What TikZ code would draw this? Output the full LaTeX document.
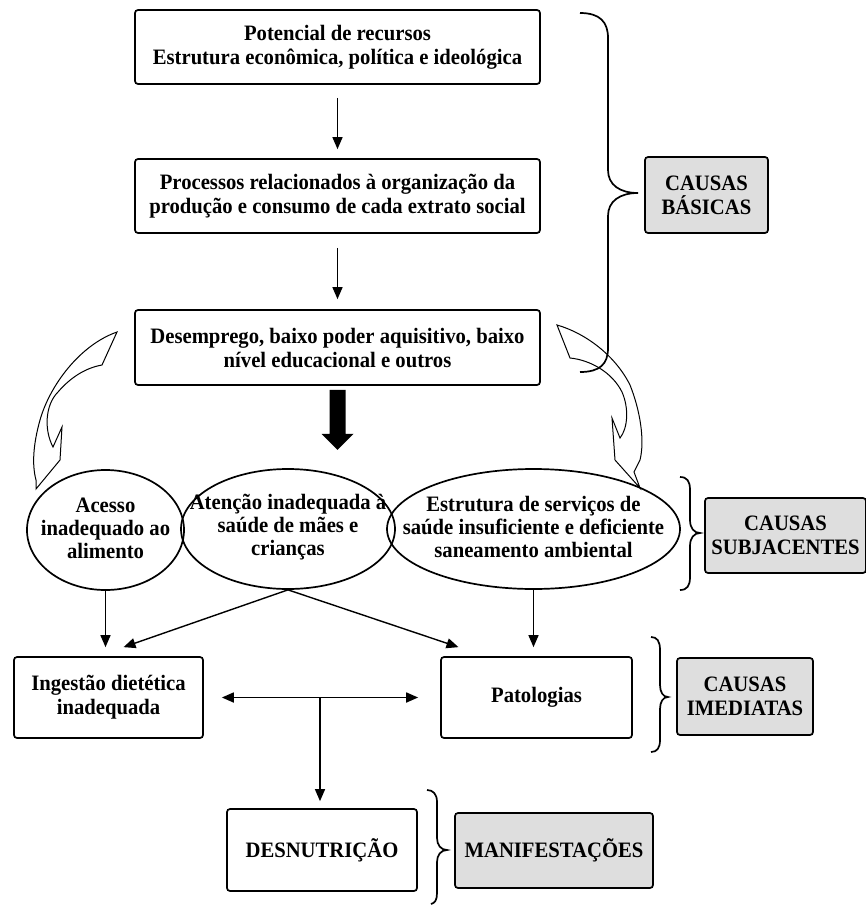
\documentclass[tikz,border=0pt]{standalone}
\usepackage{fontspec}
\setmainfont{Liberation Serif}[FakeStretch=0.94]
\usetikzlibrary{shapes.geometric,arrows.meta,calc}
\begin{document}
\begin{tikzpicture}[x=1pt,y=-1pt,
  txt/.style={font=\bfseries\fontsize{22}{24}\selectfont, align=center},
  etxt/.style={font=\bfseries\fontsize{22}{23}\selectfont, align=center, inner sep=0pt},
  box/.style={txt, draw, line width=1.7pt, rounded corners=3pt, inner sep=0pt},
  gbox/.style={box, fill=black!13},
  ell/.style={draw, ellipse, line width=1.7pt, inner sep=0pt},
  arr/.style={-{Triangle[length=12pt,width=10pt]}, line width=1.4pt},
  darr/.style={{Triangle[length=12pt,width=10pt]}-{Triangle[length=12pt,width=10pt]}, line width=1.7pt},
  brace/.style={line width=1.7pt},
  hollow/.style={line width=1pt, line join=miter},
]
\useasboundingbox (0,0) rectangle (865,905);

% main column boxes
\node[box, minimum width=405pt, minimum height=74pt] (b1) at (337.5,47) {Potencial de recursos\\Estrutura econômica, política e ideológica};
\node[box, minimum width=405pt, minimum height=74pt] (b2) at (337.5,196) {Processos relacionados à organização da\\produção e consumo de cada extrato social};
\node[box, minimum width=405pt, minimum height=75pt] (b3) at (337.5,347.5) {Desemprego, baixo poder aquisitivo, baixo\\nível educacional e outros};

\node[gbox, minimum width=123pt, minimum height=76pt] (cb) at (706.5,195) {CAUSAS\\BÁSICAS};

% ellipses
\node[ell, minimum width=157pt, minimum height=120pt] (eL) at (105.5,530) {};
\node[ell, minimum width=214pt, minimum height=120pt] (eM) at (288,529) {};
\node[ell, minimum width=293pt, minimum height=120pt] (eR) at (533.5,529) {};
\node[etxt] (tL) at ([yshift=2pt]eL.center) {Acesso\\inadequado ao\\alimento};
\node[etxt] (tM) at ([yshift=2pt]eM.center) {Atenção inadequada à\\saúde de mães e\\crianças};
\node[etxt] (tR) at ([yshift=2pt]eR.center) {Estrutura de serviços de\\saúde insuficiente e deficiente\\saneamento ambiental};

\node[gbox, minimum width=161pt, minimum height=75pt] (cs) at (785.5,535.5) {CAUSAS\\SUBJACENTES};

% immediate causes
\node[box, minimum width=189pt, minimum height=81pt] (ing) at (108.5,697.5) {Ingestão dietética\\inadequada};
\node[box, minimum width=191pt, minimum height=81pt] (pat) at (536.5,697.5) {Patologias};
\node[gbox, minimum width=136pt, minimum height=77pt] (ci) at (745,696.5) {CAUSAS\\IMEDIATAS};

% manifestation
\node[box, minimum width=190pt, minimum height=82pt] (des) at (322,850) {DESNUTRIÇÃO};
\node[gbox, minimum width=198pt, minimum height=75pt] (cm) at (554,850.5) {MANIFESTAÇÕES};

% arrows in the column
\draw[arr] ([yshift=-13pt]b1.south) -- ([yshift=9pt]b2.north);
\draw[arr] ([yshift=-14pt]b2.south) -- ([yshift=10pt]b3.north);

% thick block arrow
\coordinate (ta) at ([yshift=-4pt]b3.south);
\fill (ta) ++(-8,0) -- ++(16,0) -- ++(0,44) -- ++(8,0) -- ++(-16,16) -- ++(-16,-16) -- ++(8,0) -- cycle;

% arrows from ellipses
\draw[arr] (eL.south) -- ([yshift=9pt]ing.north -| eL.south);
\draw[arr] (eM.south) -- ([xshift=15pt,yshift=9pt]ing.north);
\draw[arr] (eM.south) -- ([xshift=-78pt,yshift=9pt]pat.north);
\draw[arr] (eR.south) -- ([yshift=9pt]pat.north -| eR.south);

% double arrow and stem
\coordinate (dl) at ([xshift=18pt]ing.east);
\coordinate (dr) at ([xshift=-22pt]pat.west);
\coordinate (dm) at ($(dl)!0.5!(dr)$);
\draw[darr] (dl) -- (dr);
\draw[arr] (dm) -- ([yshift=7pt]dm |- des.north);

% braces
\draw[brace] (580,13) .. controls (600,13) and (608,22) .. (608,38) -- (608,170)
  .. controls (608,185) and (620,193) .. (638,193)
  .. controls (620,193) and (608,201) .. (608,216) -- (608,348)
  .. controls (608,364) and (600,372) .. (580,372);
\draw[brace] (680,477) .. controls (687,477) and (690,481) .. (690,490) -- (690,520)
  .. controls (690,528) and (694,533) .. (700,533)
  .. controls (694,533) and (690,538) .. (690,546) -- (690,577)
  .. controls (690,586) and (687,590) .. (680,590);
\draw[brace] (651,637) .. controls (657,637) and (660,641) .. (660,650) -- (660,685)
  .. controls (660,692) and (663,697) .. (668,697)
  .. controls (663,697) and (660,702) .. (660,709) -- (660,740)
  .. controls (660,748) and (657,752) .. (651,752);
\draw[brace] (427,790) .. controls (433,790) and (437,794) .. (437,802) -- (437,838)
  .. controls (437,845) and (441,850) .. (447,850)
  .. controls (441,850) and (437,855) .. (437,862) -- (437,893)
  .. controls (437,900) and (435,903) .. (431,904);

% hollow curved arrows
\draw[hollow] (117,332) .. controls (80,345) and (50,385) .. (40,420)
  .. controls (33,445) and (32,465) .. (36,480) -- (36,489)
  -- (60,460) -- (62,427) -- (53,447)
  .. controls (44,430) and (45,405) .. (58,392)
  .. controls (70,378) and (85,368) .. (102,365) -- cycle;
\draw[hollow] (557,325) .. controls (585,333) and (615,355) .. (630,385)
  .. controls (640,410) and (645,440) .. (640,460) -- (634,472) -- (640,488)
  -- (615,460) -- (612,418) -- (620,438)
  .. controls (628,428) and (629,408) .. (622,392)
  .. controls (612,372) and (590,360) .. (570,358) -- cycle;
\end{tikzpicture}
\end{document}
